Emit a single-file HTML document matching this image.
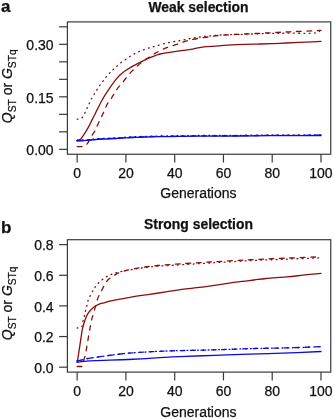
<!DOCTYPE html>
<html><head><meta charset="utf-8"><style>
html,body{margin:0;padding:0;background:#fff;width:334px;height:420px;overflow:hidden}
svg{display:block}
text{font-family:"Liberation Sans",sans-serif;fill:#111;stroke:#111;stroke-width:0.25px}
svg{will-change:transform}
</style></head><body>
<svg width="334" height="420" viewBox="0 0 334 420">
<text x="1" y="12" font-size="17" font-weight="bold">a</text>
<text x="198.5" y="11.9" font-size="13.9" font-weight="bold" text-anchor="middle">Weak selection</text>
<path d="M77.20,140.40 C77.78,140.15 79.70,139.70 80.70,138.90 C81.70,138.10 82.35,136.82 83.20,135.60 C84.05,134.38 84.88,133.10 85.80,131.60 C86.72,130.10 87.72,128.43 88.70,126.60 C89.68,124.77 90.68,122.62 91.70,120.60 C92.72,118.58 93.78,116.53 94.80,114.50 C95.82,112.47 96.80,110.40 97.80,108.40 C98.80,106.40 99.60,104.70 100.80,102.50 C102.00,100.30 103.47,97.68 105.00,95.20 C106.53,92.72 108.30,90.07 110.00,87.60 C111.70,85.13 113.53,82.50 115.20,80.40 C116.87,78.30 118.20,76.68 120.00,75.00 C121.80,73.32 124.00,71.70 126.00,70.30 C128.00,68.90 130.00,67.75 132.00,66.60 C134.00,65.45 136.00,64.43 138.00,63.40 C140.00,62.37 142.00,61.37 144.00,60.40 C146.00,59.43 148.02,58.45 150.00,57.60 C151.98,56.75 154.23,55.90 155.90,55.30 C157.57,54.70 158.08,54.45 160.00,54.00 C161.92,53.55 164.73,53.03 167.40,52.60 C170.07,52.17 173.40,51.77 176.00,51.40 C178.60,51.03 180.50,50.75 183.00,50.40 C185.50,50.05 188.50,49.72 191.00,49.30 C193.50,48.88 195.50,48.33 198.00,47.90 C200.50,47.47 203.52,46.97 206.00,46.70 C208.48,46.43 210.90,46.43 212.90,46.30 C214.90,46.17 215.65,46.08 218.00,45.90 C220.35,45.72 224.00,45.40 227.00,45.20 C230.00,45.00 231.50,44.88 236.00,44.70 C240.50,44.52 250.00,44.22 254.00,44.10 C258.00,43.98 255.75,44.13 260.00,44.00 C264.25,43.87 273.00,43.57 279.50,43.30 C286.00,43.03 293.50,42.65 299.00,42.40 C304.50,42.15 308.83,41.97 312.50,41.80 C316.17,41.63 319.58,41.47 321.00,41.40" fill="none" stroke="#8a0e0e" stroke-width="1.3" stroke-linecap="round" stroke-linejoin="round"/>
<path d="M77.20,146.60 C78.10,146.60 81.70,146.60 82.60,146.60 C83.27,146.23 85.45,145.50 86.60,144.40 C87.75,143.30 88.52,141.60 89.50,140.00 C90.48,138.40 91.48,136.53 92.50,134.80 C93.52,133.07 94.72,131.33 95.60,129.60 C96.48,127.87 96.98,126.17 97.80,124.40 C98.62,122.63 99.63,120.78 100.50,119.00 C101.37,117.22 102.22,115.37 103.00,113.70 C103.78,112.03 104.52,110.57 105.20,109.00 C105.88,107.43 106.22,105.80 107.10,104.30 C107.98,102.80 109.53,101.43 110.50,100.00 C111.47,98.57 112.03,97.13 112.90,95.70 C113.77,94.27 114.83,92.75 115.70,91.40 C116.57,90.05 117.07,88.93 118.10,87.60 C119.13,86.27 120.78,84.75 121.90,83.40 C123.02,82.05 123.68,80.93 124.80,79.50 C125.92,78.07 127.32,76.28 128.60,74.80 C129.88,73.32 131.18,71.92 132.50,70.60 C133.82,69.28 135.17,68.12 136.50,66.90 C137.83,65.68 139.08,64.47 140.50,63.30 C141.92,62.13 143.42,60.98 145.00,59.90 C146.58,58.82 148.33,57.88 150.00,56.80 C151.67,55.72 153.33,54.40 155.00,53.40 C156.67,52.40 157.93,51.80 160.00,50.80 C162.07,49.80 164.17,48.62 167.40,47.40 C170.63,46.18 176.13,44.60 179.40,43.50 C182.67,42.40 183.98,41.63 187.00,40.80 C190.02,39.97 193.77,39.17 197.50,38.50 C201.23,37.83 205.65,37.33 209.40,36.80 C213.15,36.27 214.07,35.77 220.00,35.30 C225.93,34.83 236.67,34.42 245.00,34.00 C253.33,33.58 262.50,33.17 270.00,32.80 C277.50,32.43 281.50,32.20 290.00,31.80 C298.50,31.40 315.83,30.63 321.00,30.40" fill="none" stroke="#8a0e0e" stroke-width="1.3" stroke-linecap="round" stroke-linejoin="round" stroke-dasharray="4.7 5.7"/>
<path d="M77.20,119.10 C77.60,119.08 79.20,119.02 79.60,119.00 C80.02,118.80 81.23,118.80 82.10,117.80 C82.97,116.80 83.95,114.65 84.80,113.00 C85.65,111.35 86.42,109.57 87.20,107.90 C87.98,106.23 88.70,104.67 89.50,103.00 C90.30,101.33 91.13,99.50 92.00,97.90 C92.87,96.30 93.80,94.90 94.70,93.40 C95.60,91.90 96.35,90.50 97.40,88.90 C98.45,87.30 99.85,85.37 101.00,83.80 C102.15,82.23 103.20,80.93 104.30,79.50 C105.40,78.07 106.42,76.55 107.60,75.20 C108.78,73.85 110.17,72.60 111.40,71.40 C112.63,70.20 113.57,69.33 115.00,68.00 C116.43,66.67 118.17,64.87 120.00,63.40 C121.83,61.93 124.00,60.58 126.00,59.20 C128.00,57.82 130.00,56.30 132.00,55.10 C134.00,53.90 136.00,52.92 138.00,52.00 C140.00,51.08 142.00,50.32 144.00,49.60 C146.00,48.88 148.02,48.30 150.00,47.70 C151.98,47.10 153.00,46.82 155.90,46.00 C158.80,45.18 163.48,43.68 167.40,42.80 C171.32,41.92 175.63,41.40 179.40,40.70 C183.17,40.00 186.57,39.22 190.00,38.60 C193.43,37.98 195.00,37.60 200.00,37.00 C205.00,36.40 212.50,35.47 220.00,35.00 C227.50,34.53 236.67,34.47 245.00,34.20 C253.33,33.93 262.50,33.57 270.00,33.40 C277.50,33.23 282.50,33.27 290.00,33.20 C297.50,33.13 309.83,33.62 315.00,33.00 C320.17,32.38 320.00,30.08 321.00,29.50" fill="none" stroke="#8a0e0e" stroke-width="1.3" stroke-linecap="round" stroke-linejoin="round" stroke-dasharray="0.905 4.325"/>
<path d="M77.00,141.00 C78.17,140.93 81.83,140.75 84.00,140.60 C86.17,140.45 88.00,140.28 90.00,140.10 C92.00,139.92 93.33,139.68 96.00,139.50 C98.67,139.32 102.67,139.17 106.00,139.00 C109.33,138.83 112.67,138.68 116.00,138.50 C119.33,138.32 122.67,138.08 126.00,137.90 C129.33,137.72 132.00,137.57 136.00,137.40 C140.00,137.23 145.17,137.03 150.00,136.90 C154.83,136.77 160.00,136.68 165.00,136.60 C170.00,136.52 172.50,136.48 180.00,136.40 C187.50,136.32 200.00,136.17 210.00,136.10 C220.00,136.03 230.00,136.07 240.00,136.00 C250.00,135.93 260.00,135.77 270.00,135.70 C280.00,135.63 291.50,135.63 300.00,135.60 C308.50,135.57 317.50,135.52 321.00,135.50" fill="none" stroke="#0c0cd6" stroke-width="1.3" stroke-linecap="round" stroke-linejoin="round"/>
<path d="M77.00,140.70 C78.17,140.63 81.83,140.45 84.00,140.30 C86.17,140.15 88.00,139.98 90.00,139.80 C92.00,139.62 93.33,139.38 96.00,139.20 C98.67,139.02 102.67,138.87 106.00,138.70 C109.33,138.53 112.67,138.38 116.00,138.20 C119.33,138.02 122.67,137.78 126.00,137.60 C129.33,137.42 132.00,137.27 136.00,137.10 C140.00,136.93 145.17,136.73 150.00,136.60 C154.83,136.47 160.00,136.38 165.00,136.30 C170.00,136.22 172.50,136.18 180.00,136.10 C187.50,136.02 200.00,135.87 210.00,135.80 C220.00,135.73 230.00,135.77 240.00,135.70 C250.00,135.63 260.00,135.47 270.00,135.40 C280.00,135.33 291.50,135.33 300.00,135.30 C308.50,135.27 317.50,135.22 321.00,135.20" fill="none" stroke="#0c0cd6" stroke-width="1.3" stroke-linecap="round" stroke-linejoin="round" stroke-dasharray="4.7 5.7"/>
<path d="M77.00,140.30 C78.17,140.23 81.83,140.05 84.00,139.90 C86.17,139.75 88.00,139.58 90.00,139.40 C92.00,139.22 93.33,138.98 96.00,138.80 C98.67,138.62 102.67,138.47 106.00,138.30 C109.33,138.13 112.67,137.98 116.00,137.80 C119.33,137.62 122.67,137.38 126.00,137.20 C129.33,137.02 132.00,136.87 136.00,136.70 C140.00,136.53 145.17,136.33 150.00,136.20 C154.83,136.07 160.00,135.98 165.00,135.90 C170.00,135.82 172.50,135.78 180.00,135.70 C187.50,135.62 200.00,135.47 210.00,135.40 C220.00,135.33 230.00,135.37 240.00,135.30 C250.00,135.23 260.00,135.07 270.00,135.00 C280.00,134.93 291.50,134.93 300.00,134.90 C308.50,134.87 317.50,134.82 321.00,134.80" fill="none" stroke="#0c0cd6" stroke-width="1.3" stroke-linecap="round" stroke-linejoin="round" stroke-dasharray="0.913 4.363"/>
<rect x="67.4" y="21.9" width="263.35" height="132.35" fill="none" stroke="#3a3a3a" stroke-width="1.2"/>
<line x1="59.1" y1="149.35" x2="67.4" y2="149.35" stroke="#3a3a3a" stroke-width="1.2"/>
<text x="53.6" y="155.05" font-size="14" text-anchor="end">0.00</text>
<line x1="59.1" y1="131.84" x2="67.4" y2="131.84" stroke="#3a3a3a" stroke-width="1.2"/>
<line x1="59.1" y1="114.34" x2="67.4" y2="114.34" stroke="#3a3a3a" stroke-width="1.2"/>
<line x1="59.1" y1="96.83" x2="67.4" y2="96.83" stroke="#3a3a3a" stroke-width="1.2"/>
<text x="53.6" y="102.53" font-size="14" text-anchor="end">0.15</text>
<line x1="59.1" y1="79.33" x2="67.4" y2="79.33" stroke="#3a3a3a" stroke-width="1.2"/>
<line x1="59.1" y1="61.82" x2="67.4" y2="61.82" stroke="#3a3a3a" stroke-width="1.2"/>
<line x1="59.1" y1="44.32" x2="67.4" y2="44.32" stroke="#3a3a3a" stroke-width="1.2"/>
<text x="53.6" y="50.02" font-size="14" text-anchor="end">0.30</text>
<line x1="59.1" y1="26.81" x2="67.4" y2="26.81" stroke="#3a3a3a" stroke-width="1.2"/>
<line x1="77.15" y1="154.25" x2="77.15" y2="162.55" stroke="#3a3a3a" stroke-width="1.2"/>
<text x="77.15" y="178.1" font-size="14" text-anchor="middle">0</text>
<line x1="125.92" y1="154.25" x2="125.92" y2="162.55" stroke="#3a3a3a" stroke-width="1.2"/>
<text x="125.92" y="178.1" font-size="14" text-anchor="middle">20</text>
<line x1="174.69" y1="154.25" x2="174.69" y2="162.55" stroke="#3a3a3a" stroke-width="1.2"/>
<text x="174.69" y="178.1" font-size="14" text-anchor="middle">40</text>
<line x1="223.45" y1="154.25" x2="223.45" y2="162.55" stroke="#3a3a3a" stroke-width="1.2"/>
<text x="223.45" y="178.1" font-size="14" text-anchor="middle">60</text>
<line x1="272.22" y1="154.25" x2="272.22" y2="162.55" stroke="#3a3a3a" stroke-width="1.2"/>
<text x="272.22" y="178.1" font-size="14" text-anchor="middle">80</text>
<line x1="320.99" y1="154.25" x2="320.99" y2="162.55" stroke="#3a3a3a" stroke-width="1.2"/>
<text x="320.99" y="178.1" font-size="14" text-anchor="middle">100</text>
<text x="198.4" y="197.9" font-size="14" text-anchor="middle">Generations</text>
<text transform="translate(12,86.3) rotate(-90)" font-size="14" text-anchor="middle"><tspan font-style="italic">Q</tspan><tspan font-size="10.2" dy="3.6">ST</tspan><tspan dy="-3.6"> or </tspan><tspan font-style="italic">G</tspan><tspan font-size="10.2" dy="3.6">STq</tspan></text>
<text x="1" y="233" font-size="17" font-weight="bold">b</text>
<text x="198.5" y="229.0" font-size="13.9" font-weight="bold" text-anchor="middle">Strong selection</text>
<path d="M77.40,361.60 C77.70,359.63 78.60,353.75 79.20,349.80 C79.80,345.85 80.52,341.10 81.00,337.90 C81.48,334.70 81.65,332.87 82.10,330.60 C82.55,328.33 83.10,326.37 83.70,324.30 C84.30,322.23 84.95,320.05 85.70,318.20 C86.45,316.35 87.28,314.65 88.20,313.20 C89.12,311.75 90.03,310.65 91.20,309.50 C92.37,308.35 93.87,307.18 95.20,306.30 C96.53,305.42 97.73,304.78 99.20,304.20 C100.67,303.62 102.53,303.23 104.00,302.80 C105.47,302.37 106.67,301.95 108.00,301.60 C109.33,301.25 108.33,301.42 112.00,300.70 C115.67,299.98 124.00,298.32 130.00,297.30 C136.00,296.28 142.00,295.50 148.00,294.60 C154.00,293.70 160.00,292.80 166.00,291.90 C172.00,291.00 178.00,290.00 184.00,289.20 C190.00,288.40 197.00,287.73 202.00,287.10 C207.00,286.47 210.00,285.98 214.00,285.40 C218.00,284.82 221.33,284.27 226.00,283.60 C230.67,282.93 237.33,282.00 242.00,281.40 C246.67,280.80 250.00,280.48 254.00,280.00 C258.00,279.52 260.58,279.02 266.00,278.50 C271.42,277.98 280.33,277.45 286.50,276.90 C292.67,276.35 297.25,275.80 303.00,275.20 C308.75,274.60 318.00,273.62 321.00,273.30" fill="none" stroke="#8a0e0e" stroke-width="1.3" stroke-linecap="round" stroke-linejoin="round"/>
<path d="M77.20,366.50 C77.95,366.50 80.95,366.50 81.70,366.50 C82.27,364.70 84.23,359.08 85.10,355.70 C85.97,352.32 86.30,349.57 86.90,346.20 C87.50,342.83 88.12,338.87 88.70,335.50 C89.28,332.13 89.87,328.82 90.40,326.00 C90.93,323.18 91.35,320.78 91.90,318.60 C92.45,316.42 92.73,316.23 93.70,312.90 C94.67,309.57 96.32,302.45 97.70,298.60 C99.08,294.75 100.78,292.23 102.00,289.80 C103.22,287.37 103.90,285.75 105.00,284.00 C106.10,282.25 107.20,280.62 108.60,279.30 C110.00,277.98 111.92,277.08 113.40,276.10 C114.88,275.12 115.62,274.27 117.50,273.40 C119.38,272.53 121.62,271.73 124.70,270.90 C127.78,270.07 132.62,269.05 136.00,268.40 C139.38,267.75 141.42,267.48 145.00,267.00 C148.58,266.52 152.67,265.95 157.50,265.50 C162.33,265.05 165.25,264.88 174.00,264.30 C182.75,263.72 197.33,262.77 210.00,262.00 C222.67,261.23 237.50,260.33 250.00,259.70 C262.50,259.07 273.17,258.68 285.00,258.20 C296.83,257.72 315.00,257.03 321.00,256.80" fill="none" stroke="#8a0e0e" stroke-width="1.3" stroke-linecap="round" stroke-linejoin="round" stroke-dasharray="4.7 5.7"/>
<path d="M77.20,328.00 C77.98,327.80 81.12,327.00 81.90,326.80 C82.07,325.90 82.48,323.18 82.90,321.40 C83.32,319.62 83.98,317.82 84.40,316.10 C84.82,314.38 84.98,312.83 85.40,311.10 C85.82,309.37 86.45,307.47 86.90,305.70 C87.35,303.93 87.50,302.23 88.10,300.50 C88.70,298.77 89.68,296.95 90.50,295.30 C91.32,293.65 92.38,291.70 93.00,290.60 C93.62,289.50 93.60,289.62 94.20,288.70 C94.80,287.78 95.60,286.33 96.60,285.10 C97.60,283.87 98.80,282.53 100.20,281.30 C101.60,280.07 103.50,278.70 105.00,277.70 C106.50,276.70 107.70,276.02 109.20,275.30 C110.70,274.58 112.42,273.93 114.00,273.40 C115.58,272.87 116.70,272.57 118.70,272.10 C120.70,271.63 123.05,271.15 126.00,270.60 C128.95,270.05 132.92,269.35 136.40,268.80 C139.88,268.25 143.40,267.73 146.90,267.30 C150.40,266.87 152.85,266.55 157.40,266.20 C161.95,265.85 165.43,265.73 174.20,265.20 C182.97,264.67 197.37,263.75 210.00,263.00 C222.63,262.25 237.50,261.33 250.00,260.70 C262.50,260.07 273.17,259.68 285.00,259.20 C296.83,258.72 315.00,258.03 321.00,257.80" fill="none" stroke="#8a0e0e" stroke-width="1.3" stroke-linecap="round" stroke-linejoin="round" stroke-dasharray="0.899 4.296"/>
<path d="M77.00,362.30 C78.17,362.15 80.83,361.68 84.00,361.40 C87.17,361.12 91.67,360.80 96.00,360.60 C100.33,360.40 104.67,360.38 110.00,360.20 C115.33,360.02 122.00,359.77 128.00,359.50 C134.00,359.23 140.00,358.95 146.00,358.60 C152.00,358.25 158.33,357.73 164.00,357.40 C169.67,357.07 171.50,356.95 180.00,356.60 C188.50,356.25 203.33,355.70 215.00,355.30 C226.67,354.90 237.50,354.60 250.00,354.20 C262.50,353.80 278.17,353.35 290.00,352.90 C301.83,352.45 315.83,351.73 321.00,351.50" fill="none" stroke="#0c0cd6" stroke-width="1.3" stroke-linecap="round" stroke-linejoin="round"/>
<path d="M77.00,361.20 C77.83,360.98 80.57,360.28 82.00,359.90 C83.43,359.52 83.60,359.28 85.60,358.90 C87.60,358.52 90.60,358.10 94.00,357.60 C97.40,357.10 102.42,356.40 106.00,355.90 C109.58,355.40 111.83,355.05 115.50,354.60 C119.17,354.15 122.92,353.63 128.00,353.20 C133.08,352.77 140.00,352.35 146.00,352.00 C152.00,351.65 158.33,351.33 164.00,351.10 C169.67,350.87 171.50,350.82 180.00,350.60 C188.50,350.38 202.50,350.15 215.00,349.80 C227.50,349.45 242.50,348.83 255.00,348.50 C267.50,348.17 279.00,348.12 290.00,347.80 C301.00,347.48 315.83,346.80 321.00,346.60" fill="none" stroke="#0c0cd6" stroke-width="1.3" stroke-linecap="round" stroke-linejoin="round" stroke-dasharray="4.7 5.7"/>
<path d="M77.00,361.20 C77.83,360.98 80.57,360.28 82.00,359.90 C83.43,359.52 83.60,359.28 85.60,358.90 C87.60,358.52 90.60,358.10 94.00,357.60 C97.40,357.10 102.42,356.40 106.00,355.90 C109.58,355.40 111.83,355.05 115.50,354.60 C119.17,354.15 122.92,353.63 128.00,353.20 C133.08,352.77 140.00,352.35 146.00,352.00 C152.00,351.65 158.33,351.33 164.00,351.10 C169.67,350.87 171.50,350.82 180.00,350.60 C188.50,350.38 202.50,350.15 215.00,349.80 C227.50,349.45 242.50,348.83 255.00,348.50 C267.50,348.17 279.00,348.12 290.00,347.80 C301.00,347.48 315.83,346.80 321.00,346.60" fill="none" stroke="#0c0cd6" stroke-width="1.3" stroke-linecap="round" stroke-linejoin="round" stroke-dasharray="0.913 4.363"/>
<rect x="67.4" y="239.7" width="263.35" height="132.40" fill="none" stroke="#3a3a3a" stroke-width="1.2"/>
<line x1="59.1" y1="367.20" x2="67.4" y2="367.20" stroke="#3a3a3a" stroke-width="1.2"/>
<text x="53.6" y="372.90" font-size="14" text-anchor="end">0.0</text>
<line x1="59.1" y1="336.56" x2="67.4" y2="336.56" stroke="#3a3a3a" stroke-width="1.2"/>
<text x="53.6" y="342.26" font-size="14" text-anchor="end">0.2</text>
<line x1="59.1" y1="305.92" x2="67.4" y2="305.92" stroke="#3a3a3a" stroke-width="1.2"/>
<text x="53.6" y="311.62" font-size="14" text-anchor="end">0.4</text>
<line x1="59.1" y1="275.28" x2="67.4" y2="275.28" stroke="#3a3a3a" stroke-width="1.2"/>
<text x="53.6" y="280.98" font-size="14" text-anchor="end">0.6</text>
<line x1="59.1" y1="244.64" x2="67.4" y2="244.64" stroke="#3a3a3a" stroke-width="1.2"/>
<text x="53.6" y="250.34" font-size="14" text-anchor="end">0.8</text>
<line x1="77.15" y1="372.1" x2="77.15" y2="380.40" stroke="#3a3a3a" stroke-width="1.2"/>
<text x="77.15" y="396.0" font-size="14" text-anchor="middle">0</text>
<line x1="125.92" y1="372.1" x2="125.92" y2="380.40" stroke="#3a3a3a" stroke-width="1.2"/>
<text x="125.92" y="396.0" font-size="14" text-anchor="middle">20</text>
<line x1="174.69" y1="372.1" x2="174.69" y2="380.40" stroke="#3a3a3a" stroke-width="1.2"/>
<text x="174.69" y="396.0" font-size="14" text-anchor="middle">40</text>
<line x1="223.45" y1="372.1" x2="223.45" y2="380.40" stroke="#3a3a3a" stroke-width="1.2"/>
<text x="223.45" y="396.0" font-size="14" text-anchor="middle">60</text>
<line x1="272.22" y1="372.1" x2="272.22" y2="380.40" stroke="#3a3a3a" stroke-width="1.2"/>
<text x="272.22" y="396.0" font-size="14" text-anchor="middle">80</text>
<line x1="320.99" y1="372.1" x2="320.99" y2="380.40" stroke="#3a3a3a" stroke-width="1.2"/>
<text x="320.99" y="396.0" font-size="14" text-anchor="middle">100</text>
<text x="198.4" y="417.0" font-size="14" text-anchor="middle">Generations</text>
<text transform="translate(12,303.4) rotate(-90)" font-size="14" text-anchor="middle"><tspan font-style="italic">Q</tspan><tspan font-size="10.2" dy="3.6">ST</tspan><tspan dy="-3.6"> or </tspan><tspan font-style="italic">G</tspan><tspan font-size="10.2" dy="3.6">STq</tspan></text>
</svg>
</body></html>
